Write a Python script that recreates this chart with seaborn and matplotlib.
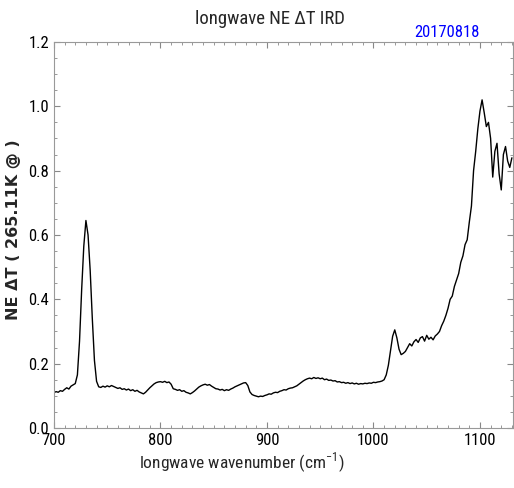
import matplotlib
matplotlib.use("Agg")
import matplotlib.pyplot as plt
from matplotlib.ticker import MultipleLocator
from matplotlib import font_manager as fm
import seaborn as sns
import pandas as pd
import numpy as np

# ---- data ----
wavenumber = list(range(700, 1131, 2))
ne_dt = (
    [0.110, 0.113, 0.111, 0.116, 0.114, 0.120, 0.125, 0.121, 0.130, 0.134, 0.138]          # 700-720
    + [0.165, 0.270, 0.430, 0.565, 0.645, 0.600, 0.490, 0.340, 0.210, 0.145]              # 722-740
    + [0.128]                                                                              # 742
    + [0.126, 0.130, 0.127, 0.131, 0.128, 0.132, 0.129, 0.126, 0.123, 0.125,
       0.120, 0.122, 0.118, 0.121, 0.116, 0.119, 0.114, 0.117, 0.112, 0.109,
       0.106, 0.111, 0.118, 0.125, 0.131, 0.137, 0.141, 0.143]                            # 744-798
    + [0.144, 0.142, 0.145, 0.141, 0.143, 0.136]                                          # 800-810
    + [0.122, 0.120, 0.117, 0.119, 0.114, 0.116, 0.111, 0.109, 0.106, 0.110,
       0.115, 0.121, 0.127]                                                               # 812-836
    + [0.131, 0.134, 0.136, 0.133, 0.135, 0.130, 0.126, 0.122]                            # 838-852
    + [0.121, 0.118, 0.120, 0.116, 0.119, 0.117, 0.121, 0.124, 0.128, 0.131, 0.134]       # 854-874
    + [0.137, 0.140, 0.141, 0.132]                                                        # 876-882
    + [0.112, 0.104, 0.101, 0.099, 0.097, 0.099, 0.098, 0.101]                            # 884-898
    + [0.103, 0.106, 0.105, 0.109, 0.111, 0.110, 0.114, 0.116, 0.119, 0.118,
       0.122, 0.124, 0.125, 0.128, 0.131, 0.136, 0.141, 0.146, 0.150, 0.153]              # 900-938
    + [0.155, 0.153, 0.157, 0.154, 0.156, 0.153, 0.155, 0.150, 0.152, 0.148]              # 940-958
    + [0.149, 0.146, 0.147, 0.143, 0.144, 0.141, 0.142, 0.139, 0.141, 0.138,
       0.140, 0.137, 0.139, 0.136, 0.138, 0.137, 0.139, 0.138, 0.140, 0.139,
       0.142, 0.141, 0.143, 0.144, 0.146]                                                 # 960-1008
    + [0.150, 0.165, 0.195, 0.240, 0.285, 0.305]                                          # 1010-1020
    + [0.280, 0.245, 0.228, 0.232, 0.238, 0.250]                                          # 1022-1032
    + [0.262, 0.255, 0.268, 0.275, 0.266, 0.280, 0.284, 0.270, 0.288, 0.276,
       0.282, 0.274, 0.286]                                                               # 1034-1058
    + [0.292, 0.300, 0.318, 0.332, 0.350, 0.372, 0.400, 0.410, 0.440, 0.460, 0.480]       # 1060-1080
    + [0.515, 0.535, 0.570, 0.585, 0.640, 0.690, 0.800, 0.860, 0.930]                     # 1082-1098
    + [0.985, 1.020, 0.980, 0.937, 0.950, 0.900, 0.780, 0.860, 0.885, 0.790,
       0.740, 0.850, 0.875, 0.830, 0.810, 0.840]                                          # 1100-1130
)
x_ticks = [700, 800, 900, 1000, 1100]
y_ticks = [0.0, 0.2, 0.4, 0.6, 0.8, 1.0, 1.2]
title_text = "longwave NE ΔT IRD"
date_text = "20170818"
xlabel_text = "longwave wavenumber (cm$^{-1}$)"
ylabel_text = "NE ΔT ( 265.11K @ )"

df = pd.DataFrame({"wn": wavenumber, "ndt": ne_dt})

sns.set_style("ticks")

# pick a narrow font if one is available
names = {f.name for f in fm.fontManager.ttflist}
narrow = None
for cand in ["Liberation Sans Narrow", "DejaVu Sans Condensed", "Roboto Condensed",
             "Open Sans Condensed", "Noto Sans Condensed"]:
    if cand in names:
        narrow = cand
        break
if narrow is None:
    narrow = "DejaVu Sans"
    base_size = 10.5
else:
    base_size = 12
plt.rcParams["font.family"] = [narrow, "DejaVu Sans"]
plt.rcParams["font.stretch"] = "condensed"
plt.rcParams["mathtext.fontset"] = "custom"
plt.rcParams["mathtext.rm"] = narrow

fig = plt.figure(figsize=(5.14, 4.88), dpi=100)
ax = fig.add_axes([0.105, 0.123, 0.893, 0.791])

sns.lineplot(data=df, x="wn", y="ndt", ax=ax, color="black", linewidth=1.0)

ax.set_xlim(700, 1131)
ax.set_ylim(0, 1.2)
ax.set_xticks(x_ticks)
ax.set_xticklabels([str(t) for t in x_ticks])
ax.set_yticks(y_ticks)
ax.set_yticklabels([f"{t:.1f}" for t in y_ticks])
ax.xaxis.set_minor_locator(MultipleLocator(10))
ax.yaxis.set_minor_locator(MultipleLocator(0.05))

ax.tick_params(which="both", direction="in", top=True, right=True, colors="#888888",
               labelcolor="black", labelsize=base_size)
ax.tick_params(which="major", length=4, width=0.8)
ax.tick_params(which="minor", length=2, width=0.6)
for s in ax.spines.values():
    s.set_color("#999999")
    s.set_linewidth(0.8)

ax.set_xlabel(xlabel_text, fontsize=base_size + 0.5, labelpad=4)
ax.xaxis.set_label_coords(0.41, -0.058)
ax.set_ylabel(ylabel_text, fontsize=11.5, fontweight="bold", family="DejaVu Sans",
              fontstretch="normal")
ax.yaxis.set_label_coords(-0.072, 0.513)
ax.set_title(title_text, fontsize=base_size + 1.5, x=0.47, pad=13)
ax.text(0.928, 1.005, date_text, transform=ax.transAxes, ha="right", va="bottom",
        color="blue", fontsize=base_size)

fig.savefig("out.png", dpi=100)
